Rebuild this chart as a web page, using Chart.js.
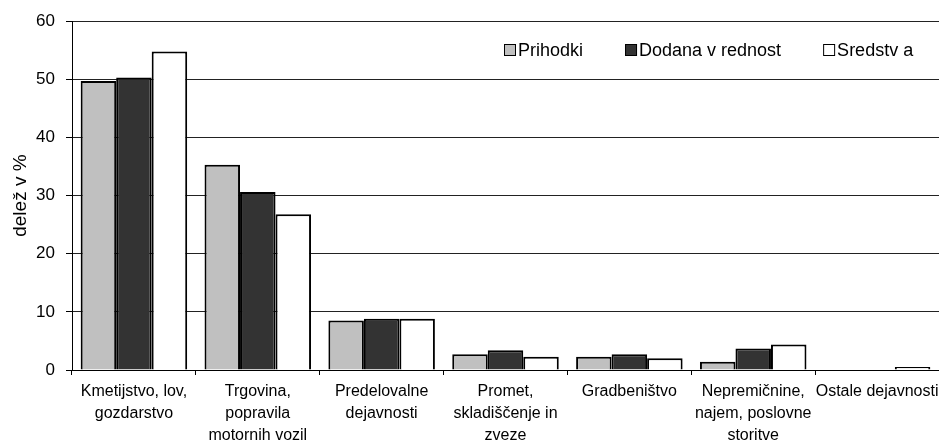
<!DOCTYPE html>
<html>
<head>
<meta charset="utf-8">
<script src="https://cdn.jsdelivr.net/npm/chart.js@4.4.1/dist/chart.umd.min.js"></script>
<style>
  body { margin: 0; background: #fff; }
  #wrap { width: 939px; height: 441px; position: relative; }
</style>
</head>
<body>
<div id="wrap"><canvas id="barChart"></canvas></div>
<script>
// --- Data ---
const categories = [
  ["Kmetijstvo, lov,", "gozdarstvo"],
  ["Trgovina,", "popravila", "motornih vozil"],
  ["Predelovalne", "dejavnosti"],
  ["Promet,", "skladiščenje in", "zveze"],
  "Gradbeništvo",
  ["Nepremičnine,", "najem, poslovne", "storitve"],
  "Ostale dejavnosti"
];
const prihodki = [49.7, 35.3, 8.5, 2.7, 2.3, 1.4, 0];
const dodanaVrednost = [50.3, 30.6, 8.8, 3.4, 2.7, 3.7, 0];
const sredstva = [54.8, 26.8, 8.8, 2.3, 2.0, 4.4, 0.5];
const seriesLabels = ["Prihodki", "Dodana v rednost", "Sredstv a"];

const FONT = '"Liberation Sans", Arial, sans-serif';

// legend drawn inside the plot area, top right
const insideLegend = {
  id: "insideLegend",
  afterDraw(chart) {
    const ctx = chart.ctx;
    ctx.save();
    ctx.font = "18px " + FONT;
    ctx.textBaseline = "alphabetic";
    let x = 504;
    const base = 56;
    chart.data.datasets.forEach(ds => {
      ctx.fillStyle = ds.backgroundColor;
      ctx.fillRect(x, base - 12, 12, 12);
      ctx.strokeStyle = "#000";
      ctx.lineWidth = 1;
      ctx.strokeRect(x + 0.5, base - 11.5, 11, 11);
      ctx.fillStyle = "#000";
      ctx.fillText(ds.label, x + 14, base);
      x += 14 + ctx.measureText(ds.label).width + 42;
    });
    ctx.restore();
  }
};

const canvas = document.getElementById("barChart");
const currentChart = new Chart(canvas, {
  type: "bar",
  data: {
    labels: categories,
    datasets: [
      { label: seriesLabels[0], data: prihodki, backgroundColor: "#c0c0c0" },
      { label: seriesLabels[1], data: dodanaVrednost, backgroundColor: "#333333" },
      { label: seriesLabels[2], data: sredstva, backgroundColor: "#ffffff" }
    ]
  },
  options: {
    responsive: true,
    maintainAspectRatio: false,
    animation: false,
    layout: { padding: { top: 20, right: 0, left: 0, bottom: 0 } },
    datasets: {
      bar: {
        borderColor: "#000",
        borderWidth: 2,
        categoryPercentage: 0.86,
        barPercentage: 1
      }
    },
    plugins: {
      legend: { display: false },
      tooltip: { enabled: false }
    },
    scales: {
      x: {
        grid: { drawOnChartArea: false, tickLength: 5, tickColor: "#000" },
        border: { color: "#000", width: 1 },
        ticks: {
          color: "#000",
          font: { family: FONT, size: 16, lineHeight: 1.4 },
          maxRotation: 0,
          autoSkip: false,
          padding: 5
        },
        afterFit(scale) {
          scale.height = 71;
          scale.paddingLeft = 0;
          scale.paddingRight = 0;
        }
      },
      y: {
        min: 0,
        max: 60,
        ticks: {
          stepSize: 10,
          color: "#000",
          font: { family: FONT, size: 17 },
          padding: 11
        },
        grid: { color: "#222", lineWidth: 1, tickLength: 6, tickColor: "#000" },
        border: { color: "#000", width: 1 },
        title: {
          display: true,
          text: "delež v %",
          color: "#000",
          font: { family: FONT, size: 19 },
          padding: { top: 9, bottom: 0 }
        },
        afterFit(scale) { scale.width = 72; }
      }
    }
  },
  plugins: [insideLegend]
});
</script>
</body>
</html>
